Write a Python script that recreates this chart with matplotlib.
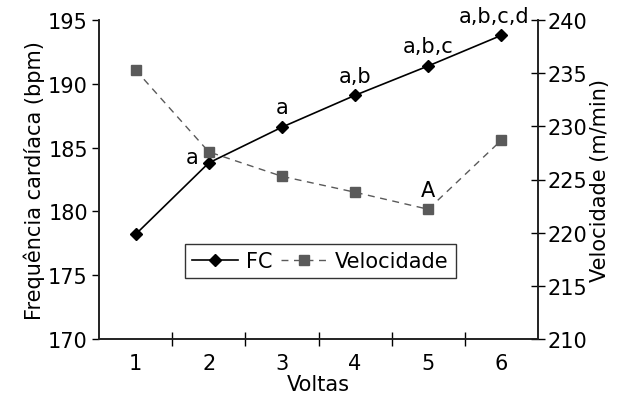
import matplotlib.pyplot as plt
import numpy as np

voltas = [1, 2, 3, 4, 5, 6]
fc = [178.2, 183.8, 186.6, 189.1, 191.4, 193.8]
velocidade = [235.3, 227.6, 225.3, 223.8, 222.2, 228.7]
fc_labels = ['', 'a', 'a', 'a,b', 'a,b,c', 'a,b,c,d']
vel_labels = ['', '', '', '', 'A', '']

plt.rcParams['font.family'] = ['DejaVu Sans']
plt.rcParams['font.size'] = 15

fig = plt.figure(figsize=(6.33, 4.02), dpi=100)
ax = fig.add_axes([99 / 633, 62 / 402, 439 / 633, 319 / 402])
ax2 = ax.twinx()

l1, = ax.plot(voltas, fc, color='black', lw=1.2, marker='D', ms=6.5, label='FC', zorder=3)
l2, = ax2.plot(voltas, velocidade, color='#5a5a5a', lw=1.0, ls=(0, (5, 4)),
               marker='s', ms=7, label='Velocidade', zorder=2)

for x, y, t in zip(voltas, fc, fc_labels):
    if not t:
        continue
    if x == 2:
        ax.annotate(t, (x, y), xytext=(-12, 4), textcoords='offset points',
                    ha='center', va='center')
    elif x == 6:
        ax.annotate(t, (x, y), xytext=(-5, 7), textcoords='offset points',
                    ha='center', va='bottom')
    else:
        ax.annotate(t, (x, y), xytext=(0, 7), textcoords='offset points',
                    ha='center', va='bottom')
for x, y, t in zip(voltas, velocidade, vel_labels):
    if t:
        ax2.annotate(t, (x, y), xytext=(0, 7), textcoords='offset points',
                     ha='center', va='bottom')

ax.set_xlim(0.5, 6.5)
ax.set_ylim(170, 195)
ax2.set_ylim(210, 240)
ax.set_xticks(voltas)
ax.set_xticks(np.arange(1.5, 6.5, 1), minor=True)
ax.tick_params(axis='x', which='major', length=0, pad=10)
ax.tick_params(axis='x', which='minor', direction='inout', length=10, width=1)
ax.set_yticks(np.arange(170, 196, 5))
ax2.set_yticks(np.arange(210, 241, 5))
ax.tick_params(axis='y', direction='out', length=5, width=1, pad=3)
ax2.tick_params(axis='y', direction='inout', length=10, width=1, pad=2)

for a in (ax, ax2):
    a.spines['top'].set_visible(False)
    for s in ('left', 'right', 'bottom'):
        a.spines[s].set_linewidth(1.2)
        a.spines[s].set_color('#222222')

ax.set_xlabel('Voltas', labelpad=1)
ax.set_ylabel('Frequência cardíaca (bpm)', labelpad=2)
ax2.set_ylabel('Velocidade (m/min)', labelpad=2)

leg = ax.legend([l1, l2], ['FC', 'Velocidade'], loc='center', bbox_to_anchor=(0.504, 0.245),
                ncol=2, frameon=True, fancybox=False, edgecolor='black',
                handlelength=2.2, columnspacing=0.4, handletextpad=0.4, borderpad=0.35)
leg.get_frame().set_linewidth(1.0)

fig.savefig('out.png', dpi=100)
